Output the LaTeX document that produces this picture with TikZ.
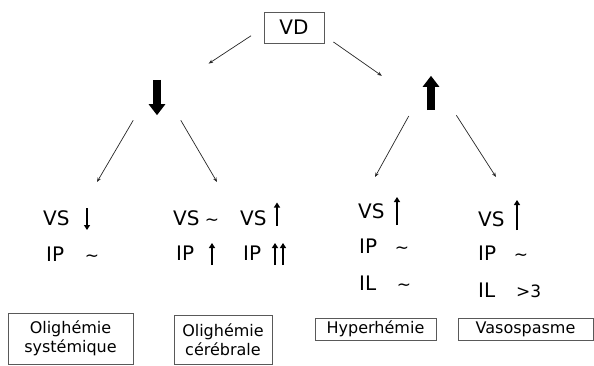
\documentclass[tikz,border=0pt]{standalone}
\usepackage{fontspec}
\setmainfont{DejaVu Sans}
\usetikzlibrary{arrows.meta}

\tikzset{vsarrow/.style={line width=2.2pt,-{Triangle[length=5pt,width=6pt]}}}
\newcommand{\dnar}[1]{\tikz\draw[vsarrow] (0pt,#1) -- (0pt,0pt);}
\newcommand{\upar}[1]{\tikz\draw[vsarrow] (0pt,0pt) -- (0pt,#1);}

\begin{document}
\begin{tikzpicture}[x=1pt,y=-1pt,
  box/.style={draw=black!65,line width=0.8pt,inner sep=0pt,align=center,
    font=\fontsize{16}{19}\selectfont},
  lbl/.style={anchor=base west,inner sep=0pt,font=\fontsize{20}{24}\selectfont},
  tl/.style={anchor=base,inner sep=0pt,font=\fontsize{17}{20}\selectfont},
  mk/.style={inner sep=0pt},
  link/.style={black!85,line width=0.7pt,-{Stealth[length=4.5pt,width=3.5pt]}},
  fat/.style={line width=8pt,-{Triangle[length=11pt,width=16pt]}}]
  \useasboundingbox (0,0) rectangle (594,365);

  % top
  \node[box,minimum width=60pt,minimum height=31pt,font=\fontsize{20}{24}\selectfont] (VD) at (294,27.5) {VD};

  % big arrows
  \node[mk,minimum width=16pt,minimum height=35pt] (down) at (157,97.5) {};
  \node[mk,minimum width=16pt,minimum height=34pt] (up) at (431,93) {};
  \draw[fat] (down.north) -- (down.south);
  \draw[fat] (up.south) -- (up.north);

  \draw[link,shorten <=15pt,shorten >=52pt] (VD.west) -- (down);
  \draw[link,shorten <=11pt,shorten >=60pt] (VD.-15) -- (up.south);

  \coordinate (e1) at (97,182);
  \coordinate (e2) at (217,182);
  \coordinate (e3) at (375,177);
  \coordinate (e4) at (496,177);
  \draw[link,shorten <=47pt] (down.north) -- (e1);
  \draw[link,shorten <=47pt] (down.north) -- (e2);
  \draw[link,shorten <=46pt] (up.north) -- (e3);
  \draw[link,shorten <=47pt] (up.north) -- (e4);

  % VS / IP / IL
  \node[lbl] (vs1) at (43,225) {VS};
  \node[mk] (vs1m) at (87,219) {\dnar{22pt}};
  \node[lbl] (ip1) at (46,261) {IP};
  \node[tl] (ip1m) at (92,261) {\textasciitilde};

  \node[lbl] (vsA) at (173,225) {VS};
  \node[tl] (vsAm) at (212,225) {\textasciitilde};
  \node[lbl] (ipA) at (176,260) {IP};
  \node[mk] (ipAm) at (212,254) {\upar{22pt}};

  \node[lbl] (vsB) at (240,225) {VS};
  \node[mk] (vsBm) at (277,214) {\upar{23pt}};
  \node[lbl] (ipB) at (243,260) {IP};
  \node[mk] (ipBm) at (279,254) {\upar{22pt}\hspace{2pt}\upar{22pt}};

  \node[lbl] (vsC) at (358,218) {VS};
  \node[mk] (vsCm) at (397,211) {\upar{28pt}};
  \node[lbl] (ipC) at (359,253) {IP};
  \node[tl] (ipCm) at (402,253) {\textasciitilde};
  \node[lbl] (ilC) at (359,290) {IL};
  \node[tl] (ilCm) at (404,290) {\textasciitilde};

  \node[lbl] (vsD) at (478,226) {VS};
  \node[mk] (vsDm) at (517,215) {\upar{30pt}};
  \node[lbl] (ipD) at (478,260) {IP};
  \node[tl] (ipDm) at (521,260) {\textasciitilde};
  \node[lbl] (ilD) at (478,297) {IL};
  \node[tl,anchor=base west] (ilDm) at (516,297) {>3};

  % bottom boxes
  \node[box,minimum width=125pt,minimum height=51pt] (sys) at (70.5,338.5) {Olighémie\\systémique};
  \node[box,minimum width=98pt,minimum height=49pt] (cer) at (223,339.5) {Olighémie\\cérébrale};
  \node[box,minimum width=121pt,minimum height=22pt] (hyp) at (375.5,329) {Hyperhémie};
  \node[box,minimum width=135pt,minimum height=22pt] (vas) at (525.5,329) {Vasospasme};
\end{tikzpicture}
\end{document}
